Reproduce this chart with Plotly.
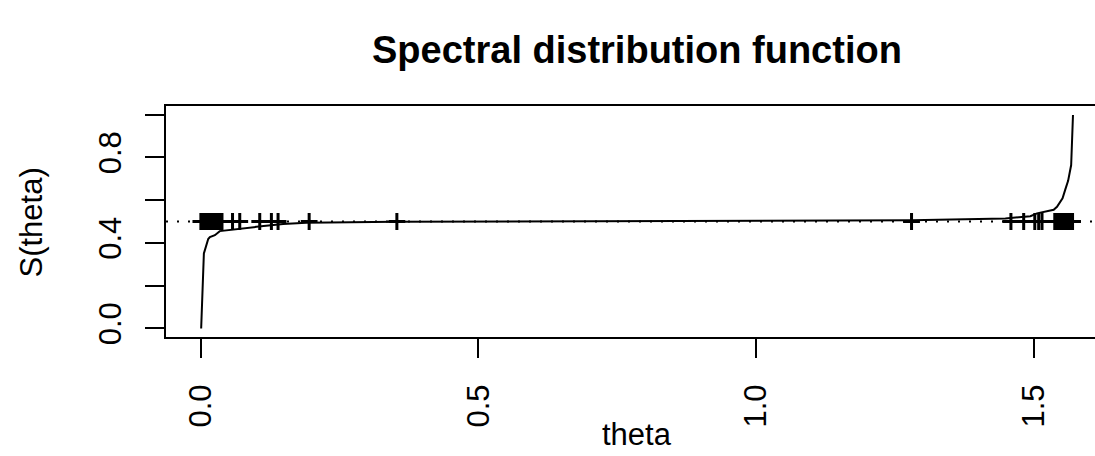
import plotly.graph_objects as go

# Smoothed spectral distribution function S(theta) on [0, pi/2]
theta_curve = [0.0005, 0.003, 0.0054, 0.0072, 0.0132, 0.0162, 0.0252, 0.034,
               0.058, 0.100, 0.148, 0.190, 0.350, 0.600, 1.000, 1.280, 1.449,
               1.494, 1.506, 1.530, 1.536, 1.542, 1.548, 1.552, 1.557, 1.562,
               1.5675, 1.569, 1.5708]
s_curve = [0.000, 0.241, 0.351, 0.366, 0.418, 0.427, 0.436, 0.455,
           0.463, 0.475, 0.488, 0.494, 0.499, 0.501, 0.503, 0.506, 0.514,
           0.525, 0.538, 0.549, 0.555, 0.569, 0.590, 0.608, 0.650, 0.690,
           0.764, 0.880, 0.998]

# Observed angles, shown as a rug of crosses at the reference level
theta_obs = [0.000, 0.002, 0.004, 0.006, 0.008, 0.011, 0.014, 0.017, 0.020,
             0.023, 0.026, 0.029, 0.032, 0.035, 0.038, 0.057, 0.070, 0.106,
             0.127, 0.139, 0.195, 0.353, 1.280, 1.459, 1.482, 1.502, 1.509,
             1.515, 1.538, 1.541, 1.544, 1.547, 1.550, 1.553, 1.556, 1.559,
             1.562, 1.565, 1.568, 1.570]
ref_level = 0.5

x_ticks = [0.0, 0.5, 1.0, 1.5]
x_ticklabels = ["0.0", "0.5", "1.0", "1.5"]
y_ticks = [0.0, 0.2, 0.4, 0.6, 0.8, 1.0]
y_ticklabels = ["0.0", "", "0.4", "", "0.8", ""]

FONT = "Liberation Sans, Arial, Helvetica, sans-serif"
W, H = 1095, 456
ML, MT, MB = 166, 106, 119
plot_w = W - ML
plot_h = H - MT - MB
px_per_unit = 555.2
x_lo = -0.04 * 1.5708
x_hi = x_lo + plot_w / px_per_unit

fig = go.Figure()

fig.add_trace(go.Scatter(
    x=theta_curve, y=s_curve, mode="lines",
    line=dict(color="black", width=2), hoverinfo="skip", showlegend=False))

fig.add_trace(go.Scatter(
    x=theta_obs, y=[ref_level] * len(theta_obs), mode="markers",
    marker=dict(symbol="cross-thin", size=12, color="black",
                line=dict(color="black", width=3)),
    hoverinfo="skip", showlegend=False))

fig.add_shape(type="line", xref="paper", yref="y", x0=0, x1=1,
              y0=ref_level, y1=ref_level,
              line=dict(color="black", width=2, dash="2px,9px"))


def px_x(px):
    return (px - ML) / plot_w


def px_y(py):
    return (H - MB - py) / plot_h


center_px = ML + (0 - x_lo) * px_per_unit + (1.5708 / 2) * px_per_unit

fig.add_annotation(text="<b>Spectral distribution function</b>",
                   xref="paper", yref="paper", x=px_x(center_px), y=px_y(50),
                   xanchor="center", yanchor="middle", showarrow=False,
                   font=dict(family=FONT, size=38, color="black"))
fig.add_annotation(text="theta", xref="paper", yref="paper",
                   x=px_x(center_px), y=px_y(434),
                   xanchor="center", yanchor="middle", showarrow=False,
                   font=dict(family=FONT, size=31, color="black"))
fig.add_annotation(text="S(theta)", xref="paper", yref="paper",
                   x=px_x(31), y=px_y(222.5), textangle=-90,
                   xanchor="center", yanchor="middle", showarrow=False,
                   font=dict(family=FONT, size=31, color="black"))

fig.update_layout(
    width=W, height=H,
    margin=dict(l=ML, r=0, t=MT, b=MB, pad=0),
    paper_bgcolor="white", plot_bgcolor="white",
    font=dict(family=FONT, size=31, color="black"),
    xaxis=dict(range=[x_lo, x_hi], tickvals=x_ticks, ticktext=x_ticklabels,
               tickangle=-90, ticks="outside", ticklen=19, tickwidth=2,
               tickcolor="black", showline=True, linecolor="black",
               linewidth=2, mirror=True, showgrid=False, zeroline=False,
               ticklabelstandoff=14,
               tickfont=dict(family=FONT, size=31, color="black")),
    yaxis=dict(range=[-0.04, 1.04], tickvals=y_ticks, ticktext=y_ticklabels,
               tickangle=-90, ticks="outside", ticklen=19, tickwidth=2,
               tickcolor="black", showline=True, linecolor="black",
               linewidth=2, mirror=False, showgrid=False, zeroline=False,
               ticklabelstandoff=12,
               tickfont=dict(family=FONT, size=31, color="black")),
)

fig.write_html("out.html")
